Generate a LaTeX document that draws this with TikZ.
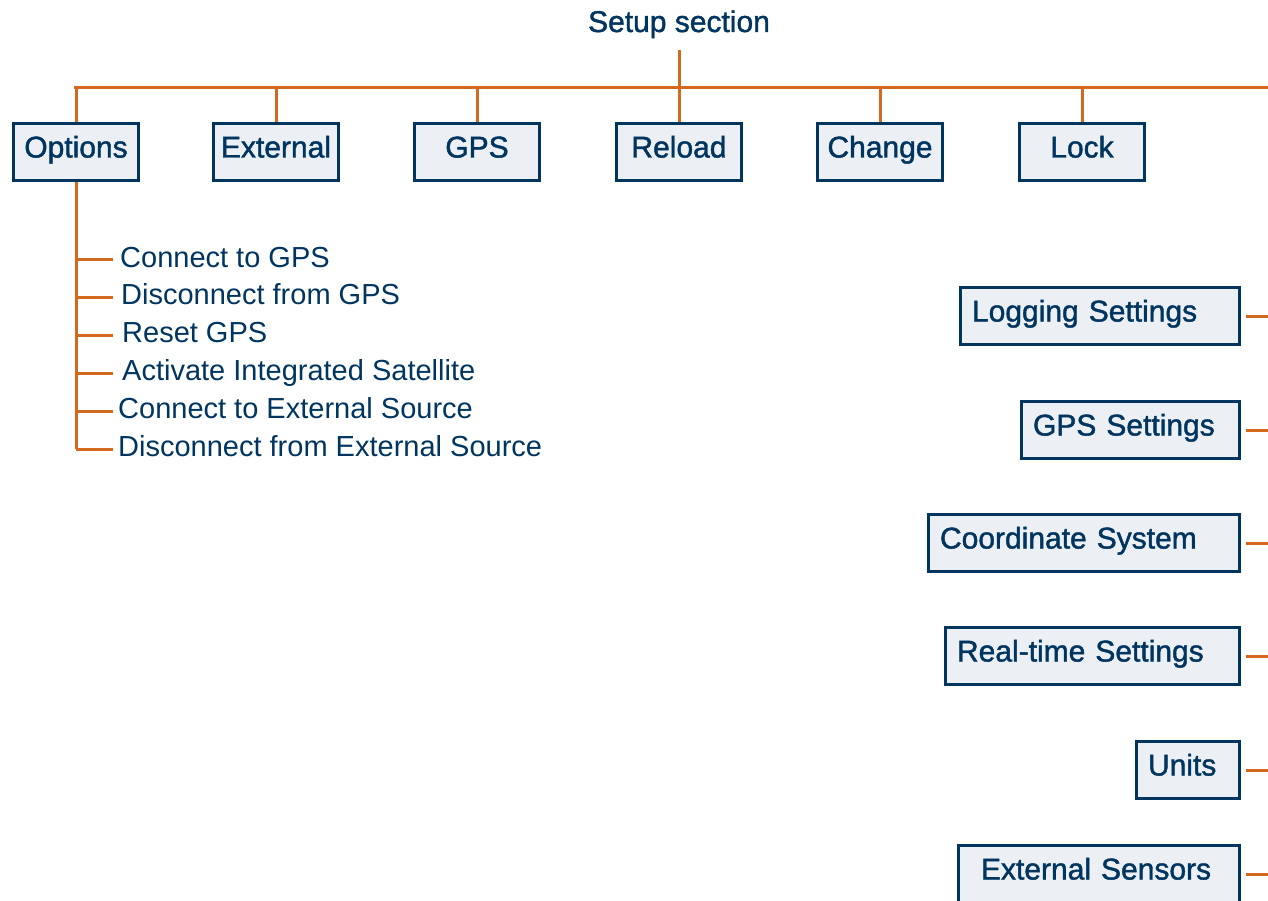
\documentclass[tikz,border=0pt]{standalone}
\usepackage{fontspec}
\setmainfont{Liberation Sans}[BoldFont=Liberation Sans, BoldFeatures={FakeBold=1.4}]
\usetikzlibrary{positioning}
\definecolor{navy}{HTML}{003560}
\definecolor{rust}{HTML}{D2691E}
\definecolor{boxfill}{HTML}{ECF0F4}
\tikzset{
  box/.style={draw=navy, fill=boxfill, line width=3pt, text=navy,
    minimum height=57pt, font=\fontsize{30}{36}\selectfont\bfseries,
    text height=22pt, text depth=11pt},
  topbox/.style={box, minimum width=125pt, inner sep=0pt},
  sidebox/.style={box, anchor=east, inner xsep=12pt, inner ysep=0pt, align=left},
  wire/.style={draw=rust, line width=3pt},
  item/.style={text=navy, font=\fontsize{29}{34}\selectfont, anchor=west,
    inner sep=0pt, text height=21pt, text depth=7pt}
}
\begin{document}
\begin{tikzpicture}[x=1pt, y=-1pt]
\useasboundingbox (0,0) rectangle (1268,901);
\begin{scope}
  \node[text=navy, font=\fontsize{30}{36}\selectfont\bfseries, anchor=base] (setup) at (679,32) {Setup section};
  \coordinate (stem) at (679,50);
  \coordinate (barL) at (74,88);
  \coordinate (barR) at (1270,88);
  \draw[wire] (stem) -- (stem |- barL);
  \draw[wire] (barL) -- (barR);
  \foreach \name/\x/\txt in {opt/76/Options, ext/276/External, gps/477/GPS,
      rel/679/Reload, chg/880/Change, lck/1082/Lock}{
    \node[topbox] (\name) at (\x,152) {\txt};
    \draw[wire] (\name.north) -- (\name.north |- barL);
  }
\end{scope}
\begin{scope}
  \foreach \i/\y/\dx/\txt in {1/260/120/Connect to GPS, 2/297/121/Disconnect from GPS,
      3/335/122/Reset GPS, 4/373/122/Activate Integrated Satellite,
      5/411/118/Connect to External Source, 6/449/118/Disconnect from External Source}{
    \node[item] (it\i) at (\dx,\y) {\txt};
    \draw[wire] (opt.south |- it\i.west) -- (113,0 |- it\i.west);
  }
  \draw[wire] (opt.south) -- (opt.south |- it6.west);
\end{scope}
\begin{scope}
  \foreach \name/\y/\w/\ind/\txt in {log/316/255/0/Logging Settings, gset/430/194/0/GPS Settings,
      crd/543/287/0/Coordinate System, rts/656/270/0/Real-time Settings,
      unt/770/79/0/Units, exs/874/257/11/External Sensors}{
    \node[sidebox, text width=\w pt] (\name) at (1240.5,\y) {\hspace*{\ind pt}\txt};
    \draw[wire] ([xshift=5pt]\name.east) -- ++(30,0);
  }
\end{scope}
\end{tikzpicture}
\end{document}
